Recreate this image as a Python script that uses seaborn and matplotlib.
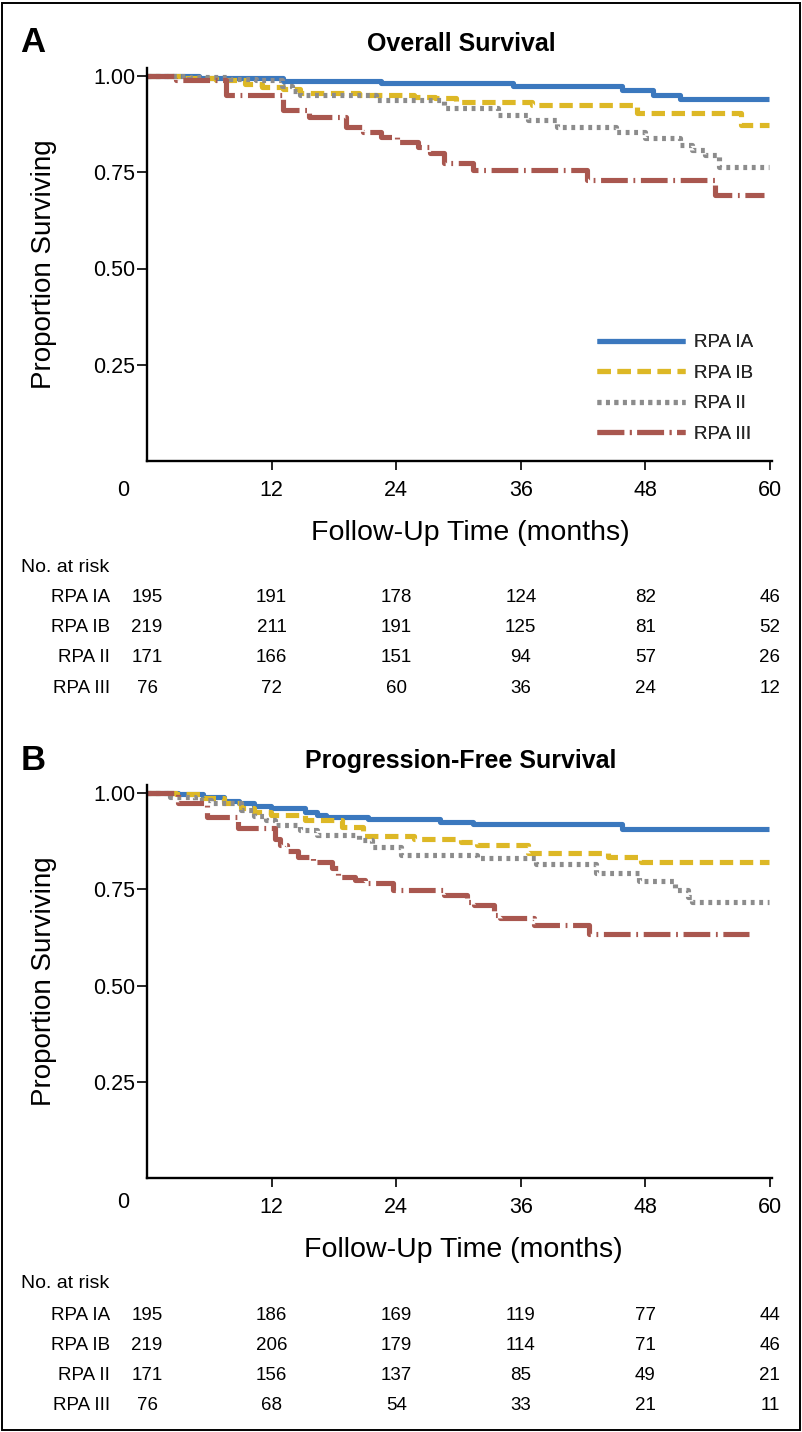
import numpy as np
import pandas as pd
import matplotlib
matplotlib.use("Agg")
import matplotlib.pyplot as plt
import seaborn as sns
from matplotlib.patches import Rectangle
from matplotlib.transforms import blended_transform_factory

# ---------------- data ----------------
groups = ["RPA IA", "RPA IB", "RPA II", "RPA III"]
x_ticks = [12, 24, 36, 48, 60]
y_ticks = [0.25, 0.50, 0.75, 1.00]
y_ticklabels = ["0.25", "0.50", "0.75", "1.00"]
risk_times = [0, 12, 24, 36, 48, 60]

# Overall survival (step points: time in months, proportion surviving)
os_ia_t = [0, 5.0, 13.1, 22.5, 35.3, 45.8, 48.7, 51.3, 59.9]
os_ia_s = [1.0, 0.995, 0.988, 0.981, 0.974, 0.964, 0.951, 0.939, 0.939]
os_ib_t = [0, 3.5, 6.6, 9.4, 11.1, 13.1, 14.7, 20.4, 25.7, 27.7, 29.8, 37.1, 47.2, 57.2, 59.9]
os_ib_s = [1.0, 0.995, 0.99, 0.98, 0.972, 0.965, 0.957, 0.951, 0.946, 0.942, 0.933, 0.925, 0.903, 0.873, 0.873]
os_ii_t = [0, 4.0, 8.0, 10.5, 13.0, 14.0, 14.7, 22.1, 28.6, 33.8, 36.7, 39.5, 45.2, 48.0, 51.3, 52.5, 53.7, 55.1, 59.9]
os_ii_s = [1.0, 0.997, 0.993, 0.99, 0.975, 0.96, 0.951, 0.938, 0.916, 0.899, 0.886, 0.868, 0.855, 0.838, 0.821, 0.808, 0.795, 0.764, 0.764]
os_iii_t = [0, 2.8, 7.6, 13.1, 15.6, 19.2, 20.8, 22.5, 24.1, 26.1, 27.3, 28.6, 31.4, 42.4, 54.7, 59.4]
os_iii_s = [1.0, 0.99, 0.951, 0.912, 0.894, 0.868, 0.855, 0.842, 0.829, 0.815, 0.80, 0.773, 0.756, 0.730, 0.691, 0.691]

# Progression-free survival
pfs_ia_t = [0, 3.0, 5.4, 7.4, 8.9, 10.3, 11.9, 15.2, 16.4, 17.2, 21.3, 28.2, 31.4, 45.8, 59.9]
pfs_ia_s = [1.0, 0.997, 0.99, 0.98, 0.973, 0.966, 0.96, 0.951, 0.943, 0.938, 0.932, 0.925, 0.919, 0.906, 0.906]
pfs_ib_t = [0, 2.8, 5.4, 7.4, 9.1, 10.3, 11.9, 15.2, 18.8, 20.8, 25.7, 30.2, 31.8, 36.7, 44.4, 47.6, 59.9]
pfs_ib_s = [1.0, 0.997, 0.986, 0.973, 0.96, 0.951, 0.943, 0.93, 0.912, 0.888, 0.88, 0.874, 0.865, 0.845, 0.835, 0.822, 0.822]
pfs_ii_t = [0, 2.2, 4.6, 6.2, 9.1, 10.3, 11.5, 12.3, 14.7, 16.4, 20.4, 21.7, 24.5, 31.8, 37.5, 43.2, 47.4, 50.9, 52.1, 52.5, 59.9]
pfs_ii_s = [1.0, 0.99, 0.982, 0.973, 0.956, 0.939, 0.93, 0.917, 0.904, 0.891, 0.878, 0.861, 0.839, 0.83, 0.816, 0.791, 0.772, 0.748, 0.731, 0.718, 0.718]
pfs_iii_t = [0, 3.0, 5.8, 8.8, 12.3, 12.8, 13.5, 14.5, 16.0, 17.8, 18.4, 20.0, 21.0, 23.7, 28.6, 30.8, 31.5, 33.4, 34.0, 37.3, 42.6, 58.0]
pfs_iii_s = [1.0, 0.975, 0.937, 0.908, 0.88, 0.865, 0.85, 0.835, 0.822, 0.805, 0.783, 0.775, 0.766, 0.748, 0.735, 0.718, 0.709, 0.684, 0.675, 0.657, 0.634, 0.634]

# numbers at risk
os_risk_ia = [195, 191, 178, 124, 82, 46]
os_risk_ib = [219, 211, 191, 125, 81, 52]
os_risk_ii = [171, 166, 151, 94, 57, 26]
os_risk_iii = [76, 72, 60, 36, 24, 12]
pfs_risk_ia = [195, 186, 169, 119, 77, 44]
pfs_risk_ib = [219, 206, 179, 114, 71, 46]
pfs_risk_ii = [171, 156, 137, 85, 49, 21]
pfs_risk_iii = [76, 68, 54, 33, 21, 11]

# ---------------- style ----------------
sns.set_theme(style="white")
FONT = "Liberation Sans"
plt.rcParams["font.family"] = [FONT, "DejaVu Sans"]

colors = ["#3B78BE", "#DDB826", "#8C8C8C", "#A9574F"]
lw = 3.7
styles = ["-", (0, (2.6, 1.3)), (0, (0.75, 0.9)), (0, (5.2, 1.1, 0.35, 1.1))]

W, H = 802, 1432
fig = plt.figure(figsize=(W / 100, H / 100), dpi=100)

def px2fx(x):
    return x / W

def px2fy(y):
    return 1 - y / H

XL, XR = 147, 772
XMAX = 60.2
YTOP_VAL = 1.02

panels = [
    dict(letter="A", title="Overall Survival", base=461, off=0,
         series=[(os_ia_t, os_ia_s), (os_ib_t, os_ib_s), (os_ii_t, os_ii_s), (os_iii_t, os_iii_s)],
         risk=[os_risk_ia, os_risk_ib, os_risk_ii, os_risk_iii], xlab_x=470, zero_dy=-21.6),
    dict(letter="B", title="Progression-Free Survival", base=1178, off=717,
         series=[(pfs_ia_t, pfs_ia_s), (pfs_ib_t, pfs_ib_s), (pfs_ii_t, pfs_ii_s), (pfs_iii_t, pfs_iii_s)],
         risk=[pfs_risk_ia, pfs_risk_ib, pfs_risk_ii, pfs_risk_iii], xlab_x=463, zero_dy=-17.5),
]

unit = 385.0  # px per 1.0 proportion
for p in panels:
    base = p["base"]
    top = base - YTOP_VAL * unit
    ax = fig.add_axes([px2fx(XL), px2fy(base), (XR - XL) / W, (base - top) / H])
    ax.set_facecolor("white")
    handles = []
    for i, (t, s) in enumerate(p["series"]):
        df = pd.DataFrame({"t": t, "s": s})
        sns.lineplot(data=df, x="t", y="s", ax=ax, color=colors[i], lw=lw,
                     drawstyle="steps-post", linestyle=styles[i], errorbar=None,
                     label=groups[i], legend=False, solid_capstyle="butt",
                     dash_capstyle="butt")
        handles.append(ax.get_lines()[-1])
    ax.set_xlim(0, XMAX)
    ax.set_ylim(0, YTOP_VAL)
    ax.set_xticks(x_ticks)
    ax.set_yticks(y_ticks)
    ax.set_yticklabels(y_ticklabels)
    for sp in ["top", "right"]:
        ax.spines[sp].set_visible(False)
    for sp in ["left", "bottom"]:
        ax.spines[sp].set_color("black")
        ax.spines[sp].set_linewidth(1.7)
    ax.tick_params(axis="x", direction="out", length=6.5, width=1.2, pad=7.5,
                   labelsize=15.5, colors="black", bottom=True)
    ax.tick_params(axis="y", direction="out", length=7.2, width=1.2, pad=1.0,
                   labelsize=15.5, colors="black", left=True)
    ax.set_xlabel("")
    ax.set_ylabel("Proportion Surviving", fontsize=20, color="black")
    ax.yaxis.set_label_coords((57 - XL) / (XR - XL), 0.5)
    # corner zero label
    ax.annotate("0", xy=(0, 0), xycoords="data", xytext=(-17.5, p["zero_dy"]),
                textcoords="offset points", ha="center", va="center",
                fontsize=15.5, color="black", annotation_clip=False)
    # x axis title
    fig.text(px2fx(p["xlab_x"]), px2fy(base + 72), "Follow-Up Time (months)",
             ha="center", va="center", fontsize=20.5, color="black")
    # legend
    ax.legend(handles, groups, loc="lower left",
              bbox_to_anchor=((597 - XL) / (XR - XL), (base - 443) / (base - top)),
              frameon=False, fontsize=13.5, handlelength=4.7, handletextpad=0.5,
              labelspacing=0.72, borderpad=0, borderaxespad=0)
    # title & letter
    fig.text(px2fx(461), px2fy(44 + p["off"]), p["title"], ha="center", va="center",
             fontsize=18, fontweight="bold", color="black")
    fig.text(px2fx(33), px2fy(43 + p["off"]), p["letter"], ha="center", va="center",
             fontsize=25, fontweight="bold", color="black")
    # number at risk table
    fig.text(px2fx(21), px2fy(567 + p["off"]), "No. at risk", ha="left", va="center",
             fontsize=14, color="black")
    trans = blended_transform_factory(ax.transData, fig.transFigure)
    for r, (g, vals) in enumerate(zip(groups, p["risk"])):
        yy = px2fy(598 + 30 * r + p["off"])
        fig.text(px2fx(110), yy, g, ha="right", va="center", fontsize=13.5, color="black")
        for tt, v in zip(risk_times, vals):
            ax.text(tt, yy, str(v), transform=trans, ha="center", va="center",
                    fontsize=13.5, color="black", clip_on=False)

# outer frame
fig.patches.append(Rectangle((px2fx(2), px2fy(1430)), (798) / W, (1427) / H,
                             transform=fig.transFigure, fill=False,
                             edgecolor="black", linewidth=1.4))

fig.savefig("out.png", dpi=100, facecolor="white")
